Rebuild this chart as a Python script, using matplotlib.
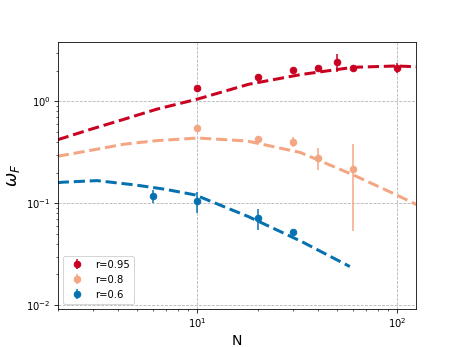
import numpy as np
import matplotlib
matplotlib.use("Agg")
import matplotlib.pyplot as plt

# measured points (mean +/- error)
n_095 = [10, 20, 30, 40, 50, 60, 100]
w_095 = [1.35, 1.73, 2.04, 2.14, 2.43, 2.14, 2.14]
e_095 = [0.06, 0.08, 0.08, 0.08, 0.5, 0.08, 0.23]

n_08 = [10, 20, 30, 40, 60]
w_08 = [0.544, 0.43, 0.40, 0.28, 0.219]
e_08 = [0.02, 0.02, 0.048, 0.07, 0.166]

n_06 = [6, 10, 20, 30]
w_06 = [0.117, 0.105, 0.071, 0.052]
e_06 = [0.017, 0.024, 0.016, 0.003]

# fitted curves
fit_n_095 = [2.0, 2.92, 4.29, 6.24, 10.05, 18.1, 33.0, 60.3, 99.3, 125]
fit_w_095 = [0.42, 0.531, 0.666, 0.835, 1.053, 1.47, 1.83, 2.155, 2.22, 2.18]

fit_n_08 = [2.0, 2.92, 4.29, 6.24, 10.05, 17.7, 32.7, 60.3, 99.3, 125]
fit_w_08 = [0.289, 0.33, 0.379, 0.411, 0.436, 0.408, 0.315, 0.1895, 0.1206, 0.097]

fit_n_06 = [2.0, 2.10, 3.14, 4.88, 6.9, 9.74, 18.0, 33.3, 58.0]
fit_w_06 = [0.159, 0.1606, 0.1666, 0.151, 0.137, 0.1206, 0.0739, 0.042, 0.0239]

c_095 = "#ca0020"
c_08 = "#f4a582"
c_06 = "#0571b0"

fig, ax = plt.subplots(figsize=(6.4, 4.8), dpi=72.3)

ax.errorbar(n_095, w_095, yerr=e_095, fmt="o", color=c_095, ms=6.5, label="r=0.95")
ax.errorbar(n_08, w_08, yerr=e_08, fmt="o", color=c_08, ms=6.5, label="r=0.8")
ax.errorbar(n_06, w_06, yerr=e_06, fmt="o", color=c_06, ms=6.5, label="r=0.6")

ax.plot(fit_n_095, fit_w_095, "--", color=c_095, lw=3)
ax.plot(fit_n_08, fit_w_08, "--", color=c_08, lw=3)
ax.plot(fit_n_06, fit_w_06, "--", color=c_06, lw=3)

ax.set_xscale("log")
ax.set_yscale("log")
ax.set_xlim(2.0, 125)
ax.set_ylim(0.0092, 3.85)
ax.grid(True, which="major", ls="--", color="0.7", lw=0.8)

ax.set_xlabel("N", fontsize=14)
ax.set_ylabel(r"$\omega_F$", fontsize=17)
ax.legend(loc="lower left")

plt.savefig("out.png", dpi=72.3)
